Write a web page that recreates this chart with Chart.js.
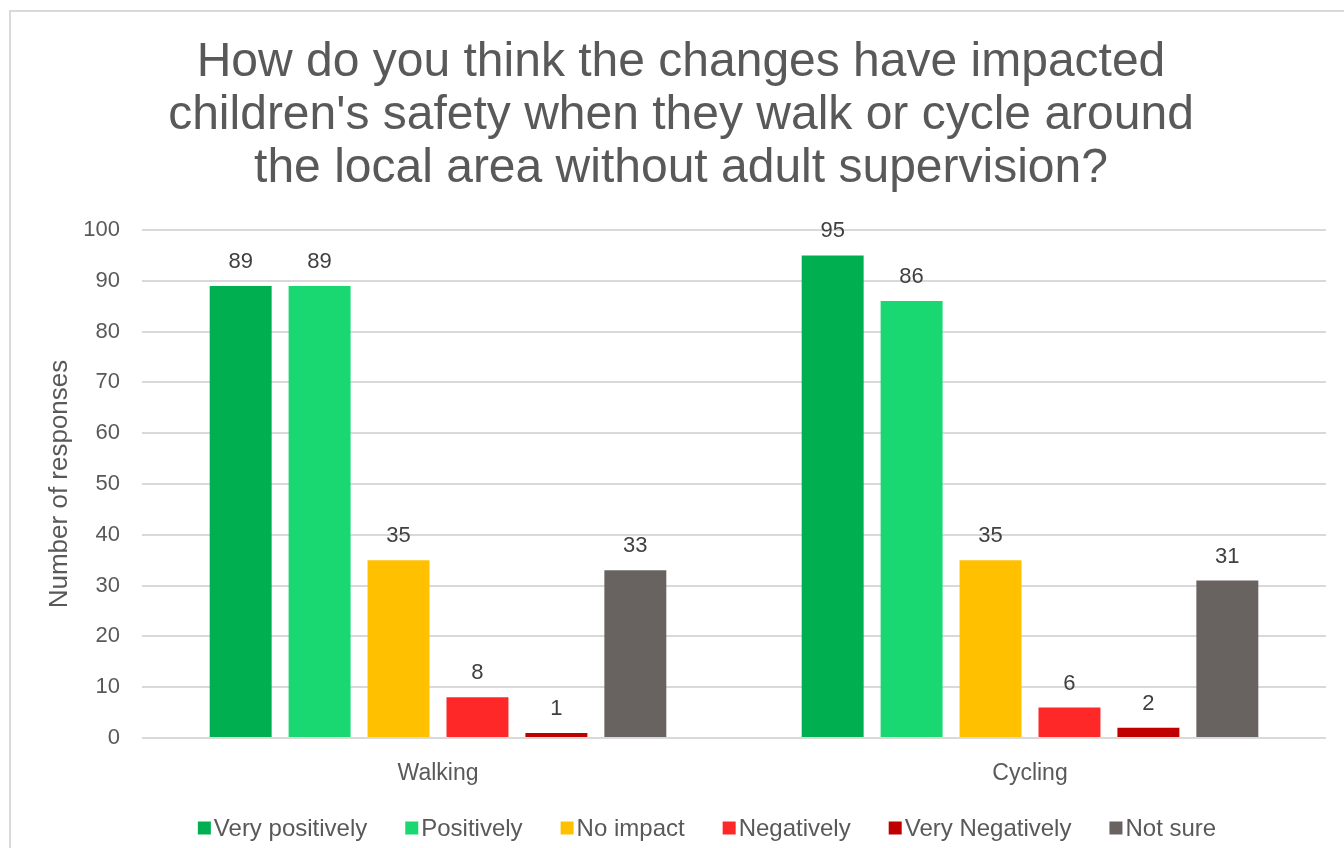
<!DOCTYPE html>
<html>
<head>
<meta charset="utf-8">
<script src="https://cdn.jsdelivr.net/npm/chart.js@4.4.1/dist/chart.umd.min.js"></script>
<style>
  html, body { margin: 0; padding: 0; background: #ffffff; }
  #wrap { position: relative; width: 1344px; height: 848px; }
</style>
</head>
<body>
<div id="wrap"><canvas id="c" width="1344" height="848"></canvas></div>
<script>
const categories = ["Walking", "Cycling"];
const seriesNames = ["Very positively", "Positively", "No impact", "Negatively", "Very Negatively", "Not sure"];
const veryPositively = [89, 95];
const positively = [89, 86];
const noImpact = [35, 35];
const negatively = [8, 6];
const veryNegatively = [1, 2];
const notSure = [33, 31];
const yTicks = [0, 10, 20, 30, 40, 50, 60, 70, 80, 90, 100];
const titleLines = ["How do you think the changes have impacted", "children's safety when they walk or cycle around", "the local area without adult supervision?"];
const yAxisTitle = "Number of responses";
const colors = ["#00B050", "#19D872", "#FFC000", "#FF2828", "#C00000", "#686361"];

const seriesValues = [veryPositively, positively, noImpact, negatively, veryNegatively, notSure];
const FONT = "'Liberation Sans', Arial, sans-serif";

const framePlugin = {
  id: 'frame',
  beforeDraw(chart) {
    const ctx = chart.ctx;
    ctx.save();
    ctx.fillStyle = '#ffffff';
    ctx.fillRect(0, 0, chart.width, chart.height);
    ctx.strokeStyle = '#d9d9d9';
    ctx.lineWidth = 2;
    ctx.strokeRect(10, 11, chart.width + 20, chart.height + 20);
    ctx.restore();
  }
};

const titlePlugin = {
  id: 'bigTitle',
  afterDraw(chart) {
    const ctx = chart.ctx;
    ctx.save();
    ctx.font = "48px " + FONT;
    ctx.fillStyle = '#595959';
    ctx.textAlign = 'center';
    ctx.textBaseline = 'middle';
    titleLines.forEach((line, i) => ctx.fillText(line, 681, 63 + i * 53));
    ctx.restore();
  }
};

const legendPlugin = {
  id: 'customLegend',
  afterDraw(chart) {
    const ctx = chart.ctx;
    ctx.save();
    ctx.font = "24px " + FONT;
    ctx.textBaseline = 'middle';
    const box = 13, gapText = 3, gapItem = 38;
    const items = chart.data.datasets.map(ds => ({ text: ds.label, color: ds.backgroundColor, w: ctx.measureText(ds.label).width }));
    let total = items.reduce((s, it) => s + box + gapText + it.w, 0) + gapItem * (items.length - 1);
    let x = 707 - total / 2;
    const y = 828;
    items.forEach(it => {
      ctx.fillStyle = it.color;
      ctx.fillRect(x, y - box / 2, box, box);
      ctx.fillStyle = '#595959';
      ctx.fillText(it.text, x + box + gapText, y + 1);
      x += box + gapText + it.w + gapItem;
    });
    ctx.restore();
  }
};

const labelPlugin = {
  id: 'valueLabels',
  afterDatasetsDraw(chart) {
    const ctx = chart.ctx;
    ctx.save();
    ctx.font = "22px " + FONT;
    ctx.fillStyle = '#404040';
    ctx.textAlign = 'center';
    ctx.textBaseline = 'middle';
    chart.data.datasets.forEach((ds, i) => {
      const meta = chart.getDatasetMeta(i);
      meta.data.forEach((bar, j) => {
        ctx.fillText(String(ds.data[j]), bar.x, bar.y - 24);
      });
    });
    ctx.restore();
  }
};

new Chart(document.getElementById('c'), {
  type: 'bar',
  data: {
    labels: categories,
    datasets: seriesNames.map((name, i) => ({
      label: name,
      data: seriesValues[i],
      backgroundColor: colors[i],
      borderWidth: 0,
      barPercentage: 0.785,
      categoryPercentage: 0.80
    }))
  },
  options: {
    responsive: false,
    animation: false,
    devicePixelRatio: 1,
    layout: { padding: { left: 0, right: 18, top: 230, bottom: 0 } },
    plugins: {
      title: { display: false },
      legend: { display: false },
      tooltip: { enabled: false }
    },
    scales: {
      x: {
        grid: { display: false },
        border: { display: false },
        ticks: { color: '#595959', font: { family: FONT, size: 23 }, padding: 14 },
        afterFit(scale) { scale.height = 110; }
      },
      y: {
        min: 0,
        max: 100,
        afterBuildTicks(scale) { scale.ticks = yTicks.map(v => ({ value: v })); },
        grid: { color: '#d9d9d9', lineWidth: 2, drawTicks: false },
        border: { display: false },
        ticks: { color: '#595959', font: { family: FONT, size: 22 }, padding: 22 },
        title: {
          display: true,
          text: yAxisTitle,
          color: '#595959',
          font: { family: FONT, size: 26 },
          padding: { top: 44, bottom: 0 }
        },
        afterFit(scale) { scale.width = 142; }
      }
    }
  },
  plugins: [framePlugin, labelPlugin, titlePlugin, legendPlugin]
});
</script>
</body>
</html>
